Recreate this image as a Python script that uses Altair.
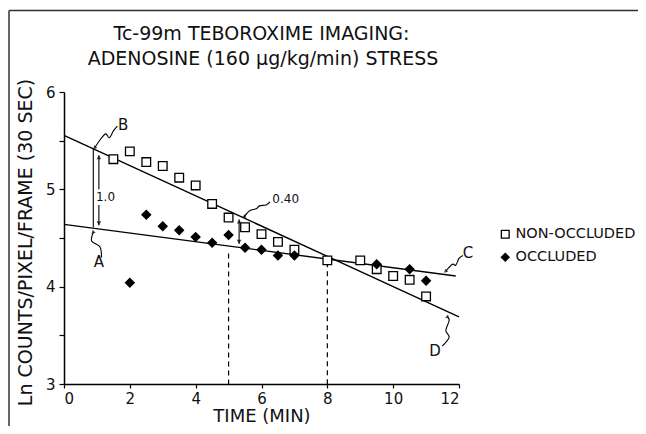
import altair as alt
import pandas as pd

FONT = "DejaVu Sans"

# ---- data ----
non_t = [1.5, 2, 2.5, 3, 3.5, 4, 4.5, 5, 5.5, 6, 6.5, 7, 8, 9, 9.5, 10, 10.5, 11]
non_v = [5.31, 5.39, 5.28, 5.24, 5.12, 5.04, 4.85, 4.71, 4.61, 4.54, 4.46, 4.38, 4.27, 4.27, 4.18, 4.11, 4.07, 3.90]
occ_t = [2, 2.5, 3, 3.5, 4, 4.5, 5, 5.5, 6, 6.5, 7, 9.5, 10.5, 11]
occ_v = [4.04, 4.74, 4.62, 4.58, 4.51, 4.45, 4.53, 4.40, 4.38, 4.32, 4.32, 4.23, 4.18, 4.06]
series_names = ["NON-OCCLUDED", "OCCLUDED"]

# fitted lines (end points)
lineB_t = [0, 12]
lineB_v = [5.555, 3.69]
lineA_t = [0, 11.9]
lineA_v = [4.64, 4.11]

# annotation geometry (data units)
dash_t = [5, 8]
dash_top = [4.34, 4.25]
seg_t = [0.89, 1.06, 1.06, 5.32]
seg_v1 = [5.42, 5.35, 4.84, 4.69]
seg_v2 = [4.61, 5.00, 4.63, 4.44]
up_t, up_v = [1.06, 5.32], [5.33, 4.67]
down_t, down_v = [1.06, 5.32], [4.65, 4.46]

leader_B_t = [0.94, 1.12, 1.27, 1.38, 1.5, 1.62]
leader_B_v = [5.43, 5.52, 5.57, 5.53, 5.60, 5.65]
leader_A_t = [0.89, 0.84, 1.09, 1.14]
leader_A_v = [4.56, 4.47, 4.41, 4.30]
leader_C_t = [11.6, 11.8, 11.9, 12.0, 12.12]
leader_C_v = [4.16, 4.23, 4.22, 4.29, 4.32]
leader_D_t = [11.65, 11.7, 11.6, 11.7, 11.49]
leader_D_v = [3.69, 3.65, 3.55, 3.48, 3.39]
leader_40_t = [5.48, 5.64, 5.84, 5.94, 6.14, 6.26]
leader_40_v = [4.72, 4.78, 4.80, 4.83, 4.84, 4.87]
tip_t = [0.94, 0.89, 11.6, 11.65, 5.48]
tip_v = [5.43, 4.56, 4.16, 3.69, 4.72]
tip_angle = [225, 345, 225, 10, 240]

big_labels = ["B", "A", "C", "D"]
big_t = [1.80, 1.06, 12.27, 11.27]
big_v = [5.66, 4.25, 4.35, 3.34]
mid_label, mid_t, mid_v = ["1.0"], [1.26], [4.92]
left_label, left_t, left_v = ["0.40"], [6.33], [4.90]

title_lines = ["Tc-99m TEBOROXIME IMAGING:", "ADENOSINE (160 \u03bcg/kg/min) STRESS"]
x_title = "TIME (MIN)"
y_title = "Ln COUNTS/PIXEL/FRAME (30 SEC)"
x_ticks = list(range(0, 13))
y_ticks = [3, 3.5, 4, 4.5, 5, 5.5, 6]

# ---- tables ----
pts = pd.DataFrame({
    "t": non_t + occ_t,
    "v": non_v + occ_v,
    "series": [series_names[0]] * len(non_t) + [series_names[1]] * len(occ_t),
})
fits = pd.DataFrame({
    "t": lineB_t + lineA_t,
    "v": lineB_v + lineA_v,
    "line": ["B", "B", "A", "A"],
})
dashes = pd.DataFrame({"t": dash_t, "v1": dash_top, "v2": [3, 3]})
segs = pd.DataFrame({"t": seg_t, "v1": seg_v1, "v2": seg_v2})
ups = pd.DataFrame({"t": up_t, "v": up_v})
downs = pd.DataFrame({"t": down_t, "v": down_v})
leaders = pd.DataFrame({
    "t": leader_B_t + leader_A_t + leader_C_t + leader_D_t + leader_40_t,
    "v": leader_B_v + leader_A_v + leader_C_v + leader_D_v + leader_40_v,
    "id": ["B"] * len(leader_B_t) + ["A"] * len(leader_A_t) + ["C"] * len(leader_C_t)
          + ["D"] * len(leader_D_t) + ["40"] * len(leader_40_t),
    "order": list(range(len(leader_B_t))) + list(range(len(leader_A_t))) + list(range(len(leader_C_t)))
             + list(range(len(leader_D_t))) + list(range(len(leader_40_t))),
})
tips = pd.DataFrame({"t": tip_t, "v": tip_v, "angle": tip_angle})
bigs = pd.DataFrame({"t": big_t, "v": big_v, "label": big_labels})
mids = pd.DataFrame({"t": mid_t, "v": mid_v, "label": mid_label})
lefts = pd.DataFrame({"t": left_t, "v": left_v, "label": left_label})
title1 = pd.DataFrame({"line": [title_lines[0]]})
title2 = pd.DataFrame({"line": [title_lines[1]]})

xs = alt.Scale(domain=[0, 12], nice=False, zero=False)
ys = alt.Scale(domain=[3, 6], nice=False, zero=False)

X = alt.X("t:Q", scale=xs, title=x_title,
          axis=alt.Axis(values=x_ticks, grid=False, tickSize=4, labelPadding=3,
                        labelExpr="indexof([3,7,9,11], datum.value) >= 0 ? '' : datum.label",
                        labelFontSize=15, titleFontSize=18, titleBaseline="alphabetic", titleY=37,
                        domainColor="black", tickColor="black", labelColor="#111",
                        titleColor="#111", domainWidth=1.5, tickWidth=1.2,
                        labelFont=FONT, titleFont=FONT, titleFontWeight="normal"))
Y = alt.Y("v:Q", scale=ys, title=y_title,
          axis=alt.Axis(values=y_ticks, grid=False, tickSize=5, labelPadding=4,
                        labelExpr="datum.value % 1 === 0 ? format(datum.value, 'd') : ''",
                        labelFontSize=15, titleFontSize=19, titlePadding=10, titleY=150,
                        domainColor="black", tickColor="black", labelColor="#111",
                        titleColor="#111", domainWidth=1.5, tickWidth=1.2,
                        labelFont=FONT, titleFont=FONT, titleFontWeight="normal"))
Xn = alt.X("t:Q", scale=xs)
Yn = alt.Y("v:Q", scale=ys)

fit_layer = alt.Chart(fits).mark_line(color="black", strokeWidth=1.4).encode(
    x=X, y=Y, detail="line:N")

dash_layer = alt.Chart(dashes).mark_rule(color="black", strokeWidth=1.2, strokeDash=[5, 4]).encode(
    x=Xn, y=alt.Y("v1:Q", scale=ys), y2="v2:Q")

seg_layer = alt.Chart(segs).mark_rule(color="black", strokeWidth=1.1).encode(
    x=Xn, y=alt.Y("v1:Q", scale=ys), y2="v2:Q")

up_layer = alt.Chart(ups).mark_point(shape="triangle-up", filled=True, color="black", size=22).encode(
    x=Xn, y=Yn)
down_layer = alt.Chart(downs).mark_point(shape="triangle-down", filled=True, color="black", size=22).encode(
    x=Xn, y=Yn)

leader_layer = alt.Chart(leaders).mark_line(color="black", strokeWidth=1.1, interpolate="cardinal").encode(
    x=Xn, y=Yn, detail="id:N", order="order:Q")

tip_layer = alt.Chart(tips).mark_point(shape="triangle", filled=True, color="black", size=18).encode(
    x=Xn, y=Yn, angle=alt.Angle("angle:Q", scale=None))

big_layer = alt.Chart(bigs).mark_text(font=FONT, fontSize=15, color="#111", baseline="middle").encode(
    x=Xn, y=Yn, text="label:N")

mid_layer = alt.Chart(mids).mark_text(font=FONT, fontSize=12, color="#111", baseline="middle",
                                      align="center").encode(x=Xn, y=Yn, text="label:N")
left_layer = alt.Chart(lefts).mark_text(font=FONT, fontSize=12, color="#111", baseline="middle",
                                        align="left").encode(x=Xn, y=Yn, text="label:N")

legend = alt.Legend(title=None, orient="none", legendX=434, legendY=135,
                    labelFont=FONT, labelFontSize=14.5, labelColor="#111",
                    symbolStrokeWidth=1.3, symbolSize=60, rowPadding=8, labelOffset=3)
pt_layer = alt.Chart(pts).mark_point(filled=True, strokeWidth=1.3, opacity=1, size=75).encode(
    x=Xn, y=Yn,
    shape=alt.Shape("series:N", scale=alt.Scale(domain=series_names, range=["square", "diamond"]),
                    legend=legend),
    fill=alt.Fill("series:N", scale=alt.Scale(domain=series_names, range=["white", "black"]),
                  legend=legend),
    stroke=alt.Stroke("series:N", scale=alt.Scale(domain=series_names, range=["black", "black"]),
                      legend=legend),
)

title1_layer = alt.Chart(title1).mark_text(
    font=FONT, fontSize=19, color="#111", align="center", baseline="alphabetic"
).encode(x=alt.value(197.5), y=alt.value(-52), text="line:N")
title2_layer = alt.Chart(title2).mark_text(
    font=FONT, fontSize=19, color="#111", align="center", baseline="alphabetic"
).encode(x=alt.value(199), y=alt.value(-27), text="line:N")

frame = pd.DataFrame({"k": [0]})
frame_left = alt.Chart(frame).mark_rule(color="#333", strokeWidth=1.5).encode(
    x=alt.value(-55), y=alt.value(-81.5), y2=alt.value(334))
frame_top = alt.Chart(frame).mark_rule(color="#333", strokeWidth=1.5).encode(
    x=alt.value(-55), x2=alt.value(574), y=alt.value(-81.5))

chart = alt.layer(
    frame_left, frame_top, fit_layer, dash_layer, seg_layer, up_layer, down_layer, leader_layer,
    tip_layer, big_layer, mid_layer, left_layer, pt_layer, title1_layer, title2_layer
).properties(
    width=395, height=292,
    padding={"left": 56, "top": 84, "right": 179, "bottom": 42},
    autosize=alt.AutoSizeParams(type="none"),
    background="white",
).configure_view(stroke=None)

chart.save("out.html", embed_options={"renderer": "svg", "actions": False})
